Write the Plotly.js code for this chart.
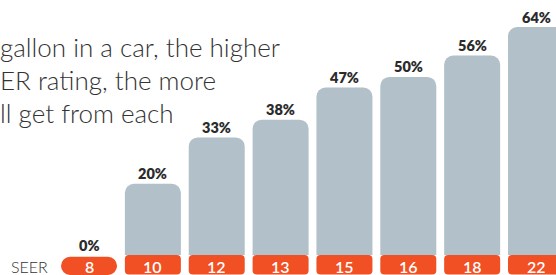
<!DOCTYPE html>
<html>
<head>
<meta charset="utf-8">
<script src="https://cdn.plot.ly/plotly-3.0.1.min.js"></script>
<style>html,body{margin:0;padding:0;background:#fff;overflow:hidden}#chart{width:556px;height:275px}</style>
</head>
<body>
<div id="chart"></div>
<script>
// ---- data ----
const seerRatings = ['8', '10', '12', '13', '15', '16', '18', '22'];
const savingsPct = [0, 20, 33, 38, 47, 50, 56, 64];
const introLines = ['gallon in a car, the higher', 'ER rating, the more', 'll get from each'];
const axisLabel = 'SEER';

// ---- style ----
const GRAY = '#b2c0ca';
const ORANGE = '#f05023';
const TEXT = '#2b2b2b';
const W = 556, H = 275;
const yMin = -5.61, yMax = 71.58;
const bandDepth = -5.45;      // orange band below baseline
const barWidth = 0.877;

const grayX = [], grayY = [];
savingsPct.forEach((v, i) => { if (v > 0) { grayX.push(i); grayY.push(v); } });
const bandX = [], bandY = [];
savingsPct.forEach((v, i) => { if (v > 0) { bandX.push(i); bandY.push(bandDepth); } });
const pillX = [], pillY = [];
savingsPct.forEach((v, i) => { if (v === 0) { pillX.push(i); pillY.push(5.1); } });

const traces = [
  { type: 'bar', x: grayX, y: grayY, width: barWidth, marker: { color: GRAY, cornerradius: 9 }, hoverinfo: 'skip' },
  { type: 'bar', x: bandX, y: bandY, base: 0, width: barWidth, marker: { color: ORANGE, cornerradius: 4 }, hoverinfo: 'skip' },
  { type: 'bar', x: pillX, y: pillY, base: yMin, width: barWidth, marker: { color: ORANGE, cornerradius: 9 }, hoverinfo: 'skip' }
];

const annotations = [];
savingsPct.forEach((v, i) => {
  annotations.push({ x: i, y: v, xref: 'x', yref: 'y', text: v + '%', showarrow: false,
    yanchor: 'middle', yshift: 10, font: { family: 'Lato, sans-serif', size: 14.5, color: TEXT, weight: 800 } });
  annotations.push({ x: i, y: -3.1, xref: 'x', yref: 'y', text: seerRatings[i], showarrow: false,
    yanchor: 'middle', font: { family: 'Lato, sans-serif', size: 16, color: '#ffffff', weight: 600 } });
});
const lineMid = [47, 80, 113];
introLines.forEach((t, k) => {
  annotations.push({ x: -2 / W, y: 1 - lineMid[k] / H, xref: 'paper', yref: 'paper', xanchor: 'left', yanchor: 'middle',
    text: t, showarrow: false, font: { family: 'Lato, sans-serif', size: 26, color: '#333333', weight: 300 } });
});
annotations.push({ x: 29 / W, y: 1 - 266.5 / H, xref: 'paper', yref: 'paper', xanchor: 'center', yanchor: 'middle',
  text: axisLabel, showarrow: false, font: { family: 'Lato, sans-serif', size: 16, color: '#333333', weight: 300 } });

const layout = {
  width: W, height: H,
  margin: { l: 0, r: 0, t: 0, b: 0 },
  paper_bgcolor: '#ffffff', plot_bgcolor: '#ffffff',
  barmode: 'overlay',
  showlegend: false,
  xaxis: { range: [-1.394, 7.313], visible: false, fixedrange: true },
  yaxis: { range: [yMin, yMax], visible: false, fixedrange: true },
  annotations: annotations
};

Plotly.newPlot('chart', traces, layout, { displayModeBar: false, staticPlot: true });
</script>
</body>
</html>
